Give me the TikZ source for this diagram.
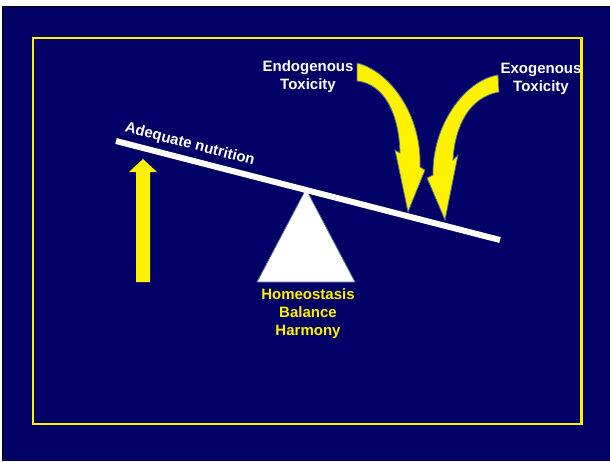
\documentclass[tikz,border=0pt]{standalone}
\usepackage{fontspec}
\setmainfont{Liberation Sans}
\definecolor{navy}{RGB}{0,0,102}
\definecolor{edgeblue}{RGB}{80,110,140}
\begin{document}
\begin{tikzpicture}[x=1pt,y=-1pt,
  lbl/.style={font=\fontsize{15}{18}\selectfont\bfseries, align=center, inner sep=0pt, anchor=north},
  curvarrow/.style={fill=yellow, draw=edgeblue, line width=0.8pt, line join=miter}]
\useasboundingbox (0,0) rectangle (610,461);
\fill[white] (0,0) rectangle (610,461);
\fill[navy] (2,6) rectangle (610,461);
\draw[black, line width=1.5pt] (2.7,461) -- (2.7,6.7) -- (610,6.7);
\draw[yellow, line width=2.2pt] (33,38) rectangle (581.5,424);
% fulcrum
\filldraw[fill=white, draw=edgeblue, line width=0.8pt] (306,189) -- (257,282) -- (355,282) -- cycle;
% beam
\draw[white, line width=6pt] (116,141) -- (500,240);
% up arrow
\fill[yellow] (136,282) -- (136,172) -- (129,172) -- (143,159) -- (157,172) -- (150,172) -- (150,282) -- cycle;
% endogenous arrow
\filldraw[curvarrow] (357,63) .. controls (390,71) and (422,115) .. (420,167)
  -- (425,170) -- (408,212) -- (395,150) -- (400,153)
  .. controls (399,115) and (385,84) .. (357,81) -- cycle;
% exogenous arrow
\filldraw[curvarrow] (498,75) .. controls (465,80) and (432,125) .. (433,175)
  -- (427,178) -- (445,220) -- (458,155) -- (453,160)
  .. controls (455,125) and (470,97) .. (499,92) -- cycle;
% texts
\node[lbl, text=white] (endo) at (308,60.5) {Endogenous\\Toxicity};
\node[lbl, text=white] (exo) at (541,63) {Exogenous\\Toxicity};
\node[lbl, text=yellow] (homeo) at (308,288) {Homeostasis\\Balance\\Harmony};
\node[font=\fontsize{15}{18}\selectfont\bfseries, text=white, inner sep=0pt, anchor=base, rotate=-14.46] (adeq) at (188.8,148.4) {Adequate nutrition};
\end{tikzpicture}
\end{document}
